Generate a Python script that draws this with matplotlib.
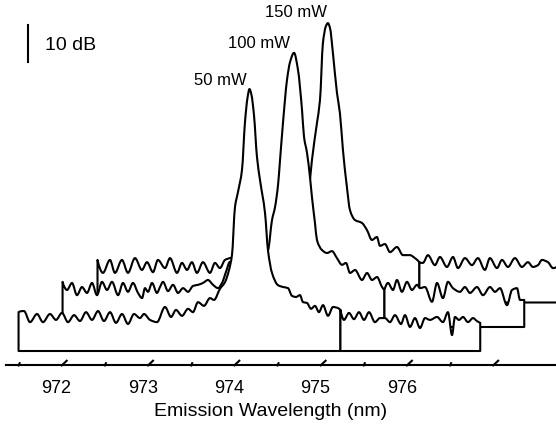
import matplotlib
matplotlib.use("Agg")
import numpy as np
import matplotlib.pyplot as plt
from matplotlib.path import Path
from matplotlib.patches import PathPatch

plt.rcParams['font.family'] = ['Liberation Sans', 'DejaVu Sans']

# ---------------- data ----------------
# each spectrum: wavelength (nm) and level (dB above its own baseline)
wl_50mW = [
    971.500, 971.563, 971.633, 971.714, 971.783, 971.864, 971.934, 972.003, 972.073, 972.143,
    972.212, 972.282, 972.351, 972.421, 972.490, 972.560, 972.629, 972.699, 972.768, 972.838,
    972.907, 972.954, 973.023, 973.104, 973.197, 973.267, 973.324, 973.394, 973.464, 973.521,
    973.579, 973.649, 973.718, 973.765, 973.834, 973.892, 973.939, 973.973, 974.008, 974.043,
    974.089, 974.124, 974.153, 974.176, 974.199, 974.228, 974.263, 974.298, 974.356, 974.390,
    974.437, 974.506, 974.564, 974.622, 974.669, 974.715, 974.761, 974.796, 974.842, 974.889,
    974.935, 974.981, 975.028, 975.086, 975.144, 975.202, 975.230, 975.271, 975.329, 975.387,
    975.445, 975.503, 975.561, 975.630, 975.688, 975.746, 975.804, 975.862, 975.932, 975.978,
    976.036, 976.094, 976.152, 976.210, 976.268, 976.349, 976.418, 976.476, 976.523, 976.557,
    976.604, 976.650, 976.708, 976.766, 976.812, 976.850,
]
lvl_50mW = [
    10.5, 10.8, 7.8, 10.0, 7.8, 10.0, 8.4, 10.3, 7.8, 9.7,
    8.1, 10.5, 8.4, 10.8, 8.1, 10.5, 7.6, 10.0, 7.3, 10.0,
    8.9, 10.0, 8.4, 7.8, 11.9, 9.2, 11.1, 9.5, 11.4, 10.5,
    13.2, 12.2, 14.3, 13.8, 16.8, 18.6, 21.9, 25.9, 38.9, 43.0,
    48.9, 61.9, 68.4, 70.8, 69.2, 63.8, 52.4, 46.2, 37.3, 27.3,
    21.1, 17.8, 17.3, 17.0, 14.9, 14.6, 15.1, 13.2, 13.0, 11.4,
    12.2, 10.5, 12.4, 9.5, 11.9, 11.6, 11.1, 8.4, 10.3, 8.6,
    10.5, 8.4, 10.5, 7.8, 8.9, 8.9, 7.8, 9.7, 7.3, 9.7,
    6.5, 8.9, 6.2, 8.9, 8.4, 9.2, 7.8, 10.5, 4.3, 9.2,
    8.4, 9.2, 7.8, 8.9, 8.1, 7.6,
]

wl_100mW = [
    971.500, 971.552, 971.609, 971.667, 971.725, 971.783, 971.841, 971.899, 971.957, 972.015,
    972.073, 972.143, 972.200, 972.258, 972.316, 972.374, 972.421, 972.455, 972.490, 972.537,
    972.594, 972.629, 972.664, 972.722, 972.780, 972.838, 972.896, 972.954, 973.012, 973.070,
    973.127, 973.185, 973.243, 973.301, 973.348, 973.394, 973.440, 973.556, 973.672, 973.788,
    973.857, 973.881, 973.927, 973.962, 973.997, 974.020, 974.054, 974.101, 974.136, 974.182,
    974.228, 974.275, 974.298, 974.333, 974.367, 974.390, 974.425, 974.448, 974.506, 974.564,
    974.622, 974.680, 974.738, 974.784, 974.831, 974.889, 974.970, 975.028, 975.086, 975.144,
    975.202, 975.230, 975.271, 975.329, 975.375, 975.433, 975.491, 975.549, 975.607, 975.642,
    975.700, 975.781, 975.839, 975.908, 975.966, 976.024, 976.105, 976.163, 976.221, 976.302,
    976.372, 976.453, 976.511, 976.569, 976.650, 976.708, 976.766, 976.801, 976.850,
]
lvl_100mW = [
    12.2, 10.0, 11.9, 8.6, 10.8, 9.2, 11.9, 8.6, 12.2, 10.0,
    12.2, 8.6, 11.9, 9.5, 11.9, 9.2, 7.8, 10.5, 9.5, 11.9,
    9.2, 10.8, 12.2, 9.7, 11.4, 9.2, 10.5, 9.5, 11.1, 11.4,
    11.9, 12.7, 11.4, 10.5, 11.9, 14.9, 17.6, 17.6, 18.4, 19.5,
    20.3, 20.8, 28.9, 32.4, 38.4, 45.1, 55.1, 66.8, 71.6, 74.1,
    69.5, 58.6, 51.4, 47.0, 40.5, 35.1, 28.1, 23.5, 20.8, 20.0,
    20.5, 18.6, 16.8, 17.3, 14.6, 15.4, 12.7, 14.6, 12.7, 13.5,
    10.8, 10.0, 11.9, 10.0, 12.7, 9.5, 12.2, 10.0, 11.4, 10.5,
    10.8, 6.8, 11.9, 7.8, 12.2, 10.5, 9.5, 10.8, 9.2, 10.8,
    8.6, 10.8, 9.5, 10.5, 5.9, 10.0, 10.5, 7.3, 7.3,
]

wl_150mW = [
    971.500, 971.563, 971.644, 971.702, 971.783, 971.853, 971.934, 972.015, 972.073, 972.143,
    972.200, 972.282, 972.340, 972.421, 972.479, 972.537, 972.594, 972.652, 972.722, 972.803,
    972.861, 972.919, 972.977, 973.035, 973.267, 973.498, 973.730, 973.846, 973.904, 973.962,
    973.985, 974.043, 974.078, 974.112, 974.147, 974.170, 974.194, 974.228, 974.275, 974.309,
    974.344, 974.390, 974.425, 974.483, 974.564, 974.622, 974.680, 974.738, 974.773, 974.831,
    974.889, 974.970, 975.039, 975.120, 975.178, 975.230, 975.271, 975.329, 975.410, 975.468,
    975.549, 975.619, 975.677, 975.758, 975.839, 975.908, 975.989, 976.047, 976.129, 976.187,
    976.256, 976.337, 976.418, 976.488, 976.546, 976.604, 976.650, 976.720, 976.778, 976.850,
]
lvl_150mW = [
    11.5, 8.0, 11.5, 8.0, 11.5, 8.0, 12.0, 8.8, 10.9, 8.2,
    11.5, 9.3, 12.0, 8.0, 10.7, 8.8, 10.9, 8.0, 10.9, 8.0,
    10.7, 9.3, 11.5, 12.0, 13.1, 13.6, 15.3, 17.4, 21.8, 33.1,
    38.5, 48.5, 54.7, 70.1, 74.7, 75.5, 74.2, 67.4, 56.6, 51.2,
    41.2, 31.2, 25.0, 22.3, 21.5, 19.6, 16.9, 17.7, 15.3, 15.8,
    13.6, 15.0, 12.8, 12.8, 12.0, 10.9, 10.7, 12.8, 10.1, 12.3,
    9.6, 12.3, 9.3, 12.0, 10.1, 12.0, 8.8, 12.0, 9.3, 11.5,
    9.6, 12.0, 9.6, 10.9, 9.6, 10.1, 11.5, 10.9, 9.3, 10.4,
]

power_labels = ["50 mW", "100 mW", "150 mW"]
major_ticks_nm = [972, 973, 974, 975, 976, 977]
minor_ticks_nm = [971.5, 972.5, 973.5, 974.5, 975.5, 976.5]
tick_labels = ["972", "973", "974", "975", "976"]
segment_break_nm = 975.23
scale_bar_db = 10

# ---------------- styling / layout ----------------
offset_nm = [0.0, 0.51, 0.915]     # waterfall shift of each trace
offset_db = [0.0, 6.49, 13.11]
label_pos = [(973.834, 71.9), (974.289, 81.8), (974.713, 90.35)]
LW = 1.5


def pchip_slopes(x, y):
    """Shape-preserving (monotone) tangents so the curve passes smoothly
    through every measured point without overshoot."""
    x = np.asarray(x, float)
    y = np.asarray(y, float)
    h = np.diff(x)
    d = np.diff(y) / h
    n = len(x)
    m = np.zeros(n)
    if n == 2:
        m[:] = d[0]
        return m
    for i in range(1, n - 1):
        if d[i - 1] * d[i] <= 0:
            m[i] = 0.0
        else:
            w1 = 2 * h[i] + h[i - 1]
            w2 = h[i] + 2 * h[i - 1]
            m[i] = (w1 + w2) / (w1 / d[i - 1] + w2 / d[i])

    def end(h0, h1, d0, d1):
        s = ((2 * h0 + h1) * d0 - h0 * d1) / (h0 + h1)
        if np.sign(s) != np.sign(d0):
            s = 0.0
        elif np.sign(d0) != np.sign(d1) and abs(s) > abs(3 * d0):
            s = 3 * d0
        return s

    m[0] = end(h[0], h[1], d[0], d[1])
    m[-1] = end(h[-1], h[-2], d[-1], d[-2])
    return m


def spectrum_patch(xs, ys, base, z):
    m = pchip_slopes(xs, ys)
    verts = [(xs[0], base), (xs[0], ys[0])]
    codes = [Path.MOVETO, Path.LINETO]
    for i in range(len(xs) - 1):
        h = xs[i + 1] - xs[i]
        verts += [(xs[i] + h / 3, ys[i] + m[i] * h / 3),
                  (xs[i + 1] - h / 3, ys[i + 1] - m[i + 1] * h / 3),
                  (xs[i + 1], ys[i + 1])]
        codes += [Path.CURVE4] * 3
    verts += [(xs[-1], base), (xs[0], base), (xs[0], base)]
    codes += [Path.LINETO, Path.LINETO, Path.CLOSEPOLY]
    return PathPatch(Path(verts, codes), facecolor='white', edgecolor='black',
                     linewidth=LW, joinstyle='round', zorder=z)


fig = plt.figure(figsize=(5.56, 4.34), dpi=100)
ax = fig.add_axes([0, 0, 1, 1])
ax.set_xlim(971.285, 977.728)
ax.set_ylim(-22.43, 94.86)
ax.axis('off')

series = [(wl_50mW, lvl_50mW), (wl_100mW, lvl_100mW), (wl_150mW, lvl_150mW)]
for k in [2, 1, 0]:
    wl, lv = series[k]
    xs = [w + offset_nm[k] for w in wl]
    ys = [v + offset_db[k] for v in lv]
    base = offset_db[k]
    ib = wl.index(segment_break_nm)
    for a, b in [(0, ib), (ib, len(xs) - 1)]:
        ax.add_patch(spectrum_patch(xs[a:b + 1], ys[a:b + 1], base, 10 - k))

for (lx, ly), lab in zip(label_pos, power_labels):
    ax.text(lx, ly, lab, ha='center', va='baseline', fontsize=12, color='black')

# scale bar
ax.plot([971.613, 971.613], [78.2, 78.2 + scale_bar_db], color='black', lw=LW)
ax.text(971.807, 81.35, f"{scale_bar_db} dB", ha='left', va='baseline', fontsize=14)

# wavelength axis (front)
y_axis = -3.9
ax.plot([971.355, 977.728], [y_axis, y_axis], color='black', lw=LW, clip_on=False)
for t in major_ticks_nm:
    ax.plot([t, t + 0.058], [y_axis, y_axis + 1.27], color='black', lw=LW)
for t in minor_ticks_nm:
    ax.plot([t, t + 0.012], [y_axis, y_axis + 0.6], color='black', lw=LW)
for t, lab in zip(major_ticks_nm, tick_labels):
    ax.text(t - 0.06, -11.43, lab, ha='center', va='baseline', fontsize=13)
ax.text(974.42, -17.57, "Emission Wavelength (nm)", ha='center', va='baseline', fontsize=14)

fig.savefig("out.png", dpi=100, facecolor='white')
